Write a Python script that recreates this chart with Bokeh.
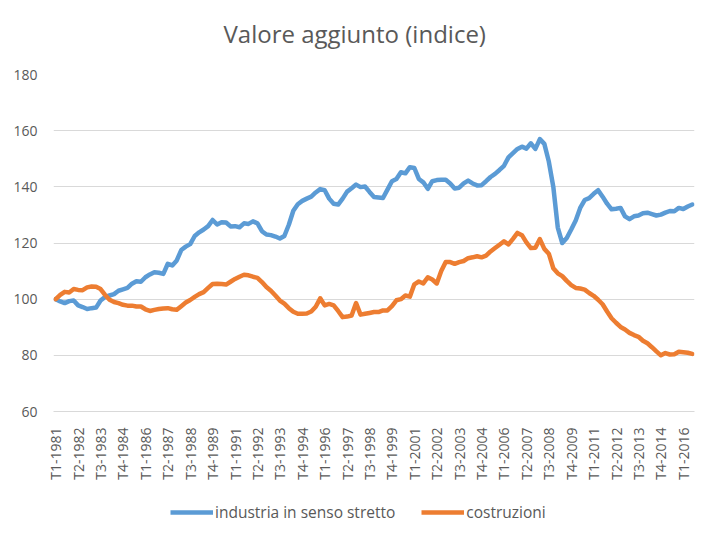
import math
from bokeh.plotting import figure
from bokeh.layouts import column
from bokeh.models import ColumnDataSource, Legend, LegendItem, FixedTicker, Range1d, Label
from bokeh.embed import file_html
from bokeh.resources import INLINE

# Quarter labels T1-1981 ... T3-2016
quarters = [f"T{q}-{y}" for y in range(1981, 2017) for q in range(1, 5)][:143]

industria = [
    100.0, 99.2, 98.6, 99.3, 99.5, 97.8, 97.2, 96.5, 96.8, 97.0,
    99.5, 100.8, 101.3, 101.8, 103.0, 103.5, 104.0, 105.5, 106.4, 106.2,
    107.8, 108.8, 109.6, 109.4, 109.0, 112.6, 112.0, 113.8, 117.5, 118.7,
    119.6, 122.5, 123.8, 124.8, 126.0, 128.2, 126.6, 127.4, 127.3, 125.9,
    126.0, 125.6, 127.0, 126.8, 127.7, 127.0, 124.2, 123.0, 122.8, 122.3,
    121.6, 122.5, 126.5, 131.5, 133.8, 135.0, 135.8, 136.5, 138.0, 139.2,
    138.8, 135.8, 134.0, 133.7, 135.8, 138.3, 139.5, 140.8, 139.9, 140.1,
    138.2, 136.4, 136.2, 136.0, 139.0, 142.0, 142.8, 145.2, 144.8, 147.0,
    146.7, 142.8, 141.6, 139.3, 142.0, 142.4, 142.5, 142.5, 141.2, 139.4,
    139.7, 141.2, 142.2, 141.2, 140.5, 140.6, 142.0, 143.5, 144.6, 146.0,
    147.5, 150.5, 152.0, 153.5, 154.3, 153.6, 155.5, 153.5, 157.0, 155.3,
    149.0, 140.0, 125.5, 120.0, 121.8, 124.8, 128.0, 132.5, 135.3, 136.0,
    137.5, 138.8, 136.5, 134.0, 132.0, 132.2, 132.5, 129.5, 128.5, 129.5,
    129.8, 130.6, 130.8, 130.3, 129.8, 130.1, 130.8, 131.4, 131.3, 132.5,
    132.1, 133.0, 133.7,
]

costruzioni = [
    100.0, 101.5, 102.6, 102.4, 103.6, 103.3, 103.2, 104.2, 104.5, 104.4,
    103.6, 101.5, 99.8, 99.0, 98.6, 98.0, 97.7, 97.7, 97.4, 97.4,
    96.4, 95.8, 96.2, 96.5, 96.7, 96.8, 96.4, 96.2, 97.5, 98.8,
    99.7, 100.8, 101.8, 102.5, 104.0, 105.4, 105.5, 105.4, 105.2, 106.2,
    107.2, 108.0, 108.7, 108.5, 108.0, 107.6, 106.1, 104.3, 103.0, 101.3,
    99.5, 98.4, 96.8, 95.5, 94.8, 94.8, 94.9, 95.6, 97.3, 100.3,
    97.8, 98.3, 97.8, 95.8, 93.6, 93.8, 94.2, 98.6, 94.5, 94.8,
    95.1, 95.4, 95.4, 96.0, 96.0, 97.5, 99.6, 100.0, 101.3, 100.9,
    105.3, 106.3, 105.6, 107.8, 107.0, 105.6, 110.0, 113.2, 113.2, 112.6,
    113.2, 113.6, 114.6, 114.9, 115.3, 114.9, 115.5, 117.0, 118.2, 119.4,
    120.6, 119.5, 121.5, 123.6, 122.8, 120.2, 118.2, 118.3, 121.4, 117.9,
    116.2, 111.0, 109.2, 108.2, 106.5, 105.0, 104.0, 103.8, 103.4, 102.2,
    101.2, 99.8, 98.2, 95.6, 93.2, 91.6, 90.1, 89.2, 88.0, 87.2,
    86.6, 85.2, 84.3, 82.9, 81.4, 80.0, 80.8, 80.3, 80.4, 81.3,
    81.1, 80.9, 80.5,
]

title_text = "Valore aggiunto (indice)"
series_names = ["industria in senso stretto", "costruzioni"]
y_ticks = [60, 80, 100, 120, 140, 160, 180]
x_tick_idx = list(range(0, len(quarters), 5))

FONT = "Open Sans"
TXT = "#595959"
GRID = "#d9d9d9"
BLUE = "#5B9BD5"
ORANGE = "#ED7D31"

# Title strip (its frame is aligned with the main chart's frame by the column layout)
tt = figure(width=699, height=66, output_backend="svg", toolbar_location=None,
            x_axis_location=None, y_axis_location=None,
            x_range=Range1d(0, 641), y_range=Range1d(0, 66),
            min_border_left=0, min_border_right=0, min_border_top=0, min_border_bottom=0)
tt.outline_line_color = None
tt.grid.visible = False
tt.border_fill_color = "white"
tt.add_layout(Label(x=170, y=33, text=title_text, text_font=FONT, text_font_size="24px",
                    text_color=TXT, text_align="left", text_baseline="middle"))

src = ColumnDataSource(dict(x=list(range(len(quarters))), ind=industria, cos=costruzioni))

p = figure(width=699, height=417, output_backend="svg", toolbar_location=None,
           x_range=Range1d(-0.5, len(quarters) - 0.5), y_range=Range1d(60, 180),
           min_border_left=53, min_border_right=5, min_border_top=8, min_border_bottom=72)
p.outline_line_color = None
p.background_fill_color = "white"
p.border_fill_color = "white"

p.line("x", "ind", source=src, line_color=BLUE, line_width=4.5, line_join="round", line_cap="round")
p.line("x", "cos", source=src, line_color=ORANGE, line_width=4.5, line_join="round", line_cap="round")

p.xgrid.visible = False
p.ygrid.grid_line_color = GRID
p.ygrid.grid_line_width = 1

p.yaxis.ticker = FixedTicker(ticks=y_ticks)
p.yaxis.axis_line_color = None
p.yaxis.major_tick_line_color = None
p.yaxis.minor_tick_line_color = None
p.yaxis.major_label_text_font = FONT
p.yaxis.major_label_text_font_size = "14px"
p.yaxis.major_label_text_color = TXT
p.yaxis.major_label_standoff = 10

p.xaxis.ticker = FixedTicker(ticks=x_tick_idx)
p.xaxis.major_label_overrides = {i: quarters[i] for i in x_tick_idx}
p.xaxis.major_label_orientation = math.pi / 2
p.xaxis.axis_line_color = GRID
p.xaxis.axis_line_width = 1
p.xaxis.major_tick_line_color = None
p.xaxis.minor_tick_line_color = None
p.xaxis.major_label_text_font = FONT
p.xaxis.major_label_text_font_size = "14px"
p.xaxis.major_label_text_color = TXT
p.xaxis.major_label_standoff = 10

# Legend strip below the chart
lg = figure(width=699, height=36, output_backend="svg", toolbar_location=None,
            x_axis_location=None, y_axis_location=None,
            x_range=Range1d(0, 1), y_range=Range1d(0, 1),
            min_border_left=0, min_border_right=0, min_border_top=0, min_border_bottom=0)
lg.outline_line_color = None
lg.grid.visible = False
lg.border_fill_color = "white"
e1 = lg.line(x=[-5, -4], y=[-5, -4], line_color=BLUE, line_width=4.5)
e2 = lg.line(x=[-5, -4], y=[-5, -4], line_color=ORANGE, line_width=4.5)

legend = Legend(items=[LegendItem(label=series_names[0], renderers=[e1]),
                       LegendItem(label=series_names[1], renderers=[e2])],
                orientation="horizontal", location=(117, -4))
legend.label_text_font = FONT
legend.label_text_font_size = "15.5px"
legend.label_text_color = TXT
legend.glyph_width = 43
legend.glyph_height = 14
legend.label_height = 14
legend.label_standoff = 2
legend.spacing = 26
legend.border_line_color = None
legend.background_fill_alpha = 0
legend.padding = 0
legend.margin = 0
lg.add_layout(legend)

layout = column(tt, p, lg, spacing=0)
open("out.html", "w").write(file_html(layout, INLINE))
